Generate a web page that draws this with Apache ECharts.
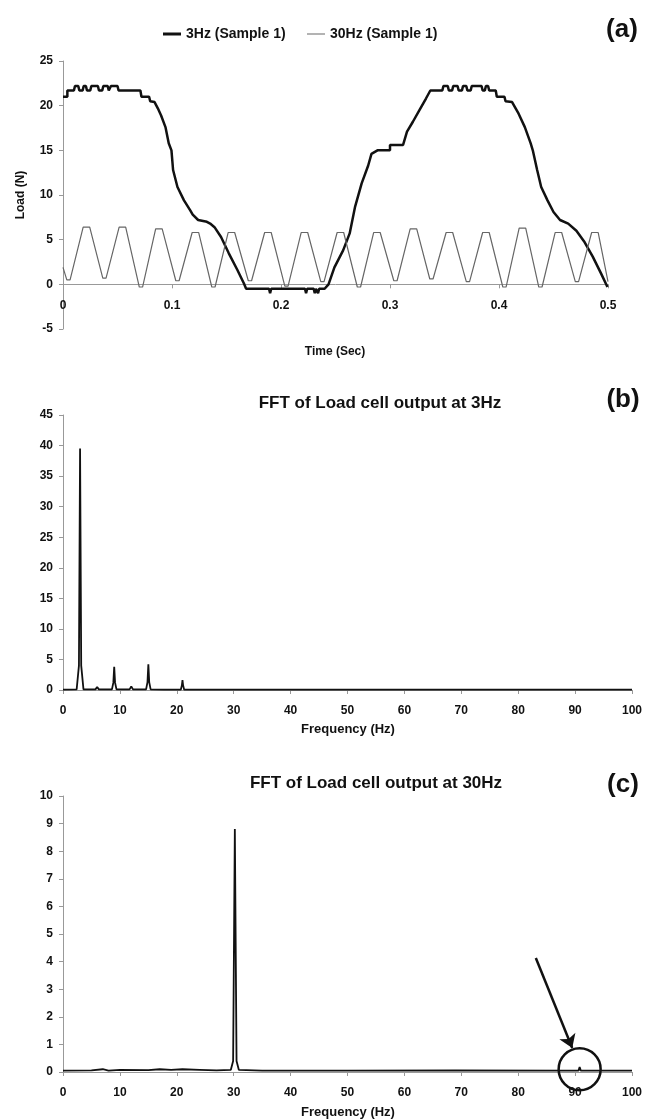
<!DOCTYPE html>
<html lang="en">
<head>
<meta charset="UTF-8">
<title>Load cell output</title>
<script src="https://cdn.jsdelivr.net/npm/echarts@6/dist/echarts.min.js"></script>
</head>
<body style="margin:0;background-color:#fff;">
<div id="main" style="position:absolute;left:0;top:0;width:645px;height:1119px"></div>
<script>
// (a) time series, [time s, load N]
var load3Hz = [
    [0, 21.0], [0.004, 21.0], [0.004, 21.7], [0.010, 21.7], [0.011, 22.2], [0.014, 22.2], [0.015, 21.7],
    [0.018, 21.7], [0.019, 22.2], [0.021, 22.2], [0.022, 21.7], [0.025, 21.7], [0.026, 22.2], [0.032, 22.2],
    [0.033, 21.7], [0.036, 21.7], [0.037, 22.2], [0.041, 22.2], [0.042, 21.7], [0.043, 21.7], [0.044, 22.2],
    [0.050, 22.2], [0.051, 21.7], [0.071, 21.7], [0.072, 21.0], [0.079, 21.0], [0.080, 20.5], [0.084, 20.4],
    [0.087, 19.7], [0.090, 18.9], [0.094, 17.6], [0.097, 15.8], [0.0995, 15.0], [0.101, 12.8], [0.105, 10.9],
    [0.111, 9.4], [0.1166, 8.3], [0.119, 7.8], [0.124, 7.2], [0.125, 7.0], [0.132, 7.0], [0.135, 6.8],
    [0.139, 6.4], [0.145, 5.3], [0.152, 3.5], [0.160, 1.6], [0.166, 0.1], [0.168, -0.5], [0.189, -0.5],
    [0.190, -1.0], [0.191, -0.5], [0.222, -0.5], [0.223, -1.0], [0.224, -0.5], [0.230, -0.5], [0.231, -1.0],
    [0.232, -0.5], [0.234, -1.0], [0.235, -0.5], [0.240, -0.5], [0.2436, 0], [0.249, 1.9], [0.257, 3.8],
    [0.263, 5.7], [0.268, 8.7], [0.274, 11.3], [0.280, 13.3], [0.283, 14.6], [0.2885, 15.0], [0.300, 15.0],
    [0.300, 15.6], [0.312, 15.6], [0.3156, 17.1], [0.321, 18.2], [0.327, 19.5], [0.333, 20.8], [0.337, 21.7],
    [0.348, 21.7], [0.349, 22.2], [0.353, 22.2], [0.354, 21.7], [0.357, 21.7], [0.358, 22.2], [0.362, 22.2],
    [0.363, 21.7], [0.366, 21.7], [0.367, 22.2], [0.370, 22.2], [0.371, 21.7], [0.374, 21.7], [0.375, 22.2],
    [0.384, 22.2], [0.385, 21.7], [0.387, 21.7], [0.388, 22.2], [0.390, 22.2], [0.391, 21.7], [0.397, 21.7],
    [0.398, 21.0], [0.405, 21.0], [0.406, 20.5], [0.412, 20.4], [0.418, 19.1], [0.4237, 17.6], [0.429, 15.8],
    [0.431, 15.0], [0.435, 12.8], [0.4387, 10.9], [0.4445, 9.4], [0.450, 8.1], [0.456, 7.2], [0.4635, 6.8],
    [0.471, 6.0], [0.4786, 4.7], [0.486, 3.1], [0.4937, 1.2], [0.4995, -0.3]
];
var load30Hz = [
    [0, 1.9],
    [0.0035, 0.5], [0.0065, 0.5], [0.0185, 6.4], [0.0245, 6.4],
    [0.0365, 0.7], [0.0395, 0.7], [0.0515, 6.4], [0.0575, 6.4],
    [0.070, -0.3], [0.073, -0.3], [0.085, 6.2], [0.091, 6.2],
    [0.1035, 0.4], [0.1065, 0.4], [0.1185, 5.8], [0.1245, 5.8],
    [0.1365, -0.3], [0.1395, -0.3], [0.1515, 5.8], [0.1575, 5.8],
    [0.170, 0.4], [0.173, 0.4], [0.185, 5.8], [0.191, 5.8],
    [0.2035, -0.2], [0.2065, -0.2], [0.2185, 5.8], [0.2245, 5.8],
    [0.2365, 0.3], [0.2395, 0.3], [0.2515, 5.8], [0.2575, 5.8],
    [0.270, -0.3], [0.273, -0.3], [0.285, 5.8], [0.291, 5.8],
    [0.3035, 0.4], [0.3065, 0.4], [0.3185, 6.2], [0.3245, 6.2],
    [0.3365, 0.6], [0.3395, 0.6], [0.3515, 5.8], [0.3575, 5.8],
    [0.370, 0.3], [0.373, 0.3], [0.385, 5.8], [0.391, 5.8],
    [0.4035, -0.3], [0.4065, -0.3], [0.4185, 6.3], [0.4245, 6.3],
    [0.4365, -0.3], [0.4395, -0.3], [0.4515, 5.8], [0.4575, 5.8],
    [0.470, 0.3], [0.473, 0.3], [0.485, 5.8], [0.491, 5.8],
    [0.500, 0.3]
];
// (b) and (c) spectra, [frequency Hz, amplitude]
var fft3Hz = [
    [0, 0.05], [2.4, 0.1], [2.8, 4], [3.0, 39.5], [3.2, 4], [3.6, 0.1],
    [5.7, 0.1], [6.0, 0.5], [6.3, 0.1],
    [8.6, 0.1], [8.85, 1.2], [9.0, 3.8], [9.15, 1.2], [9.4, 0.1],
    [11.7, 0.1], [12.0, 0.6], [12.3, 0.1],
    [14.6, 0.1], [14.85, 1.3], [15.0, 4.2], [15.15, 1.3], [15.4, 0.1],
    [17.7, 0.05], [18.0, 0.3], [18.3, 0.05],
    [20.7, 0.05], [20.9, 0.8], [21.0, 1.6], [21.1, 0.8], [21.3, 0.05],
    [23.8, 0.05], [24.0, 0.15], [24.2, 0.05],
    [29.8, 0.05], [30.0, 0.2], [30.2, 0.05], [100, 0.05]
];
var fft30Hz = [
    [0, 0.05], [5, 0.06], [7, 0.1], [8, 0.05], [10, 0.08], [15, 0.07], [17, 0.1], [19, 0.08],
    [21, 0.1], [24, 0.08], [27, 0.06], [29.5, 0.08], [29.9, 0.4], [30.2, 8.8], [30.5, 0.4], [30.9, 0.08],
    [35, 0.05], [50, 0.05], [69, 0.06], [88, 0.05], [90.6, 0.05], [90.8, 0.18], [91, 0.05], [100, 0.05]
];
var panelTitles = ['FFT of Load cell output at 3Hz', 'FFT of Load cell output at 30Hz'];

var FONT = 'Liberation Sans, Arial, sans-serif';
var labelStyle = { color: '#111', fontWeight: 'bold', fontSize: 12, fontFamily: FONT };

function xAx(grid, max, interval, offset) {
    return {
        type: 'value', gridIndex: grid, min: 0, max: max, interval: interval,
        offset: offset,
        axisLine: { onZero: false, lineStyle: { color: '#999', width: 1 } },
        axisTick: { length: 4, lineStyle: { color: '#999' } },
        axisLabel: Object.assign({ margin: 15 }, labelStyle),
        splitLine: { show: false }
    };
}
function yAx(grid, min, max, interval) {
    return {
        type: 'value', gridIndex: grid, min: min, max: max, interval: interval,
        axisLine: { show: true, lineStyle: { color: '#999', width: 1 } },
        axisTick: { show: true, length: 4, lineStyle: { color: '#999' } },
        axisLabel: Object.assign({ margin: 10 }, labelStyle),
        splitLine: { show: false }
    };
}
function txt(x, y, s, font) {
    return { type: 'text', x: x, y: y, silent: true,
        style: { text: s, font: font, fill: '#111', textAlign: 'center', textVerticalAlign: 'middle' } };
}
function legendOf(name, left, h) {
    return {
        data: [name], left: left, top: 22, icon: 'rect', itemWidth: 18, itemHeight: h,
        selectedMode: false, textStyle: Object.assign({}, labelStyle, { fontSize: 14 })
    };
}

var chart = echarts.init(document.getElementById('main'));
var ya = yAx(0, -5, 25, 5);
ya.name = 'Load (N)';
ya.nameLocation = 'middle';
ya.nameGap = 36;
ya.nameTextStyle = labelStyle;

chart.setOption({
    animation: false,
    backgroundColor: '#fff',
    grid: [
        { left: 63, top: 61, width: 545, height: 268 },
        { left: 63, top: 415, width: 569, height: 275 },
        { left: 63, top: 796, width: 569, height: 276 }
    ],
    legend: [legendOf('3Hz (Sample 1)', 158, 3), legendOf('30Hz (Sample 1)', 302, 1)],
    // axis line of (a) sits at load 0: 5/30 of the 268 px grid above its bottom
    xAxis: [xAx(0, 0.5, 0.1, -268 * 5 / 30), xAx(1, 100, 10, 0), xAx(2, 100, 10, 0)],
    yAxis: [ya, yAx(1, 0, 45, 5), yAx(2, 0, 10, 1)],
    graphic: [
        txt(622, 30, '(a)', 'bold 26px ' + FONT),
        txt(623, 400, '(b)', 'bold 26px ' + FONT),
        txt(623, 785, '(c)', 'bold 26px ' + FONT),
        txt(335, 352, 'Time (Sec)', 'bold 12px ' + FONT),
        txt(380, 403, panelTitles[0], 'bold 17px ' + FONT),
        txt(348, 729, 'Frequency (Hz)', 'bold 13px ' + FONT),
        txt(376, 783, panelTitles[1], 'bold 17px ' + FONT),
        txt(348, 1112, 'Frequency (Hz)', 'bold 13px ' + FONT)
    ],
    series: [
        { type: 'line', name: '3Hz (Sample 1)', xAxisIndex: 0, yAxisIndex: 0, data: load3Hz,
          symbol: 'none', showSymbol: false, itemStyle: { color: '#111' },
          lineStyle: { color: '#111', width: 2.5 } },
        { type: 'line', name: '30Hz (Sample 1)', xAxisIndex: 0, yAxisIndex: 0, data: load30Hz,
          symbol: 'none', showSymbol: false, itemStyle: { color: '#666' },
          lineStyle: { color: '#666', width: 1.2 } },
        { type: 'line', xAxisIndex: 1, yAxisIndex: 1, data: fft3Hz,
          symbol: 'none', showSymbol: false, lineStyle: { color: '#111', width: 1.8 } },
        { type: 'line', xAxisIndex: 2, yAxisIndex: 2, data: fft30Hz,
          symbol: 'none', showSymbol: false, lineStyle: { color: '#111', width: 1.8 },
          markLine: {
              silent: true, symbol: ['none', 'arrow'], symbolSize: 13,
              label: { show: false },
              lineStyle: { color: '#111', width: 2.5, type: 'solid' },
              data: [[{ coord: [83.1, 4.13] }, { coord: [89.5, 0.87] }]]
          },
          markPoint: {
              silent: true, symbol: 'circle', symbolSize: 42,
              label: { show: false },
              itemStyle: { color: 'rgba(0,0,0,0)', borderColor: '#111', borderWidth: 2.5 },
              data: [{ coord: [90.8, 0.1] }]
          } }
    ]
});
</script>
</body>
</html>
